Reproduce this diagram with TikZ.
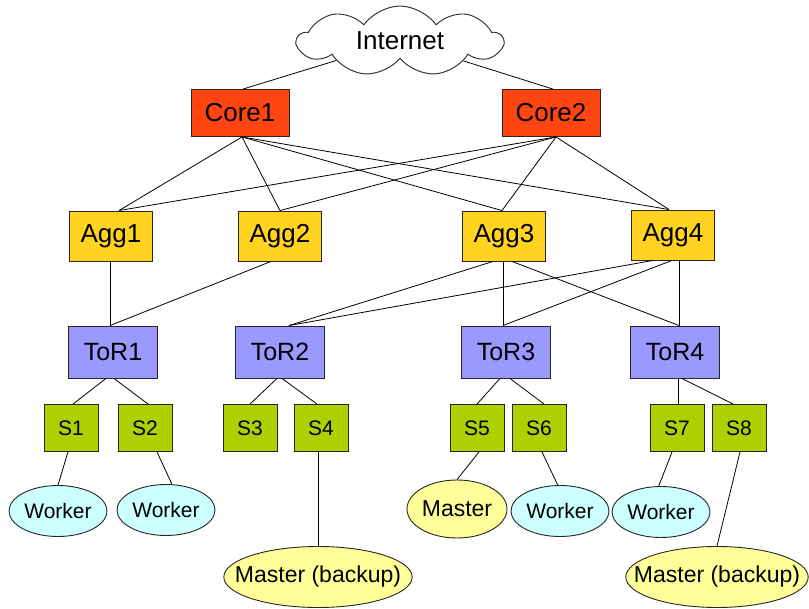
\documentclass[tikz,border=0pt]{standalone}
\usepackage{fontspec}
\setmainfont{Liberation Sans}
\usepackage{tikz}
\usetikzlibrary{shapes.geometric,shapes.symbols}
\definecolor{corefill}{HTML}{FF4511}
\definecolor{aggfill}{HTML}{FFD320}
\definecolor{torfill}{HTML}{9999FF}
\definecolor{srvfill}{HTML}{AECF00}
\definecolor{wrkfill}{HTML}{CCFFFF}
\definecolor{mstfill}{HTML}{FFFF99}
\tikzset{
  box/.style = {align=center, inner sep=0pt, text centered,
    draw=black!85, line width=0.9pt},
  core/.style = {box, rectangle, fill=corefill, minimum width=98pt,
    minimum height=47pt, font=\fontsize{26}{30}\selectfont},% core switch
  agg/.style = {box, rectangle, fill=aggfill, minimum width=83pt,
    minimum height=50pt, font=\fontsize{26}{30}\selectfont},% aggregation
  tor/.style = {box, rectangle, fill=torfill, minimum width=89pt,
    minimum height=52pt, font=\fontsize{25}{30}\selectfont},% top of rack
  srv/.style = {box, rectangle, fill=srvfill, minimum width=54pt,
    minimum height=47pt, font=\fontsize{21}{25}\selectfont},% server
  wrk/.style = {box, ellipse, fill=wrkfill, minimum width=98pt,
    minimum height=51pt, font=\fontsize{21}{25}\selectfont},% worker
  mst/.style = {box, ellipse, fill=mstfill, minimum height=58pt,
    font=\fontsize{23}{27}\selectfont}% master
}

\begin{document}
\begin{tikzpicture}[x=1pt,y=-1pt,line width=0.8pt]
\useasboundingbox (0,0) rectangle (809,609);
\node [box, cloud, fill=white, cloud puffs=9, cloud puff arc=110, aspect=2.8,
  minimum width=205pt, minimum height=70pt, font=\fontsize{26}{30}\selectfont]
  (inet) at (400,41) {Internet};

\node [core] (c1) at (240,113) {Core1};
\node [core] (c2) at (551,113) {Core2};

\node [agg] (a1) at (111,236) {Agg1};
\node [agg] (a2) at (280,236) {Agg2};
\node [agg] (a3) at (504,236) {Agg3};
\node [agg] (a4) at (673,235) {Agg4};

\node [tor] (t1) at (113,352) {ToR1};
\node [tor] (t2) at (280,352) {ToR2};
\node [tor] (t3) at (506,352) {ToR3};
\node [tor] (t4) at (675,352) {ToR4};

\node [srv] (s1) at (71,428) {S1};
\node [srv] (s2) at (145,428) {S2};
\node [srv] (s3) at (250,428) {S3};
\node [srv] (s4) at (321,428) {S4};
\node [srv] (s5) at (477,428) {S5};
\node [srv] (s6) at (539,428) {S6};
\node [srv] (s7) at (677,428) {S7};
\node [srv] (s8) at (739,428) {S8};

\node [wrk] (w1) at (58,511) {Worker};
\node [wrk] (w2) at (166,510) {Worker};
\node [mst, inner xsep=-16.5pt, minimum height=61pt] (m1) at (318,577) {Master (backup)};
\node [mst, minimum width=100pt] (m2) at (457,509) {Master};
\node [wrk] (w3) at (560,511) {Worker};
\node [wrk] (w4) at (661,512) {Worker};
\node [mst, inner xsep=-18.6pt, minimum height=61pt] (m3) at (717,577) {Master (backup)};

% internet uplinks
\draw ([xshift=3pt]c1.north) -- (inet);
\draw ([xshift=2pt]c2.north) -- (inet);

% core to aggregation
\foreach \a/\s in {a1/8,a2/0,a3/-2,a4/-4}{
  \draw ([xshift=2pt]c1.south) -- ([xshift=\s pt]\a.north);
  \draw ([xshift=5pt]c2.south) -- ([xshift=\s pt]\a.north);
}

% aggregation to racks
\draw ([xshift=-1pt]a1.south) -- ([xshift=-3pt]t1.north);
\draw ([xshift=-9pt]a2.south) -- ([xshift=-3pt]t1.north);
\draw ([xshift=-11pt]a3.south) -- ([xshift=9pt]t2.north);
\draw ([xshift=-1pt]a3.south) -- ([xshift=-3pt]t3.north);
\draw ([xshift=8pt]a3.south) -- ([xshift=4pt]t4.north);
\draw ([xshift=-20pt]a4.south) -- ([xshift=9pt]t2.north);
\draw ([xshift=-1pt]a4.south) -- ([xshift=-3pt]t3.north);
\draw ([xshift=6pt]a4.south) -- ([xshift=4pt]t4.north);

% racks to servers
\draw ([xshift=-7pt]t1.south) -- ([xshift=2pt]s1.north);
\draw ([xshift=1pt]t1.south) -- ([xshift=3pt]s2.north);
\draw ([xshift=-3pt]t2.south) -- (s3.north);
\draw ([xshift=2pt]t2.south) -- ([xshift=-4pt]s4.north);
\draw ([xshift=-6pt]t3.south) -- (s5.north);
\draw ([xshift=4pt]t3.south) -- ([xshift=5pt]s6.north);
\draw ([xshift=3pt]t4.south) -- ([xshift=1pt]s7.north);
\draw ([xshift=7pt]t4.south) -- ([xshift=-6pt]s8.north);

% servers to roles
\draw ([xshift=-3pt]s1.south) -- (w1.north);
\draw ([xshift=12pt]s2.south) -- (w2.77);
\draw ([xshift=-3pt]s4.south) -- (m1.north);
\draw ([xshift=2pt]s5.south) -- (m2.north);
\draw ([xshift=3pt]s6.south) -- (w3.95);
\draw ([xshift=-5pt]s7.south) -- (w4.95);
\draw ([xshift=1pt]s8.south) -- (m3.north);
\end{tikzpicture}
\end{document}
